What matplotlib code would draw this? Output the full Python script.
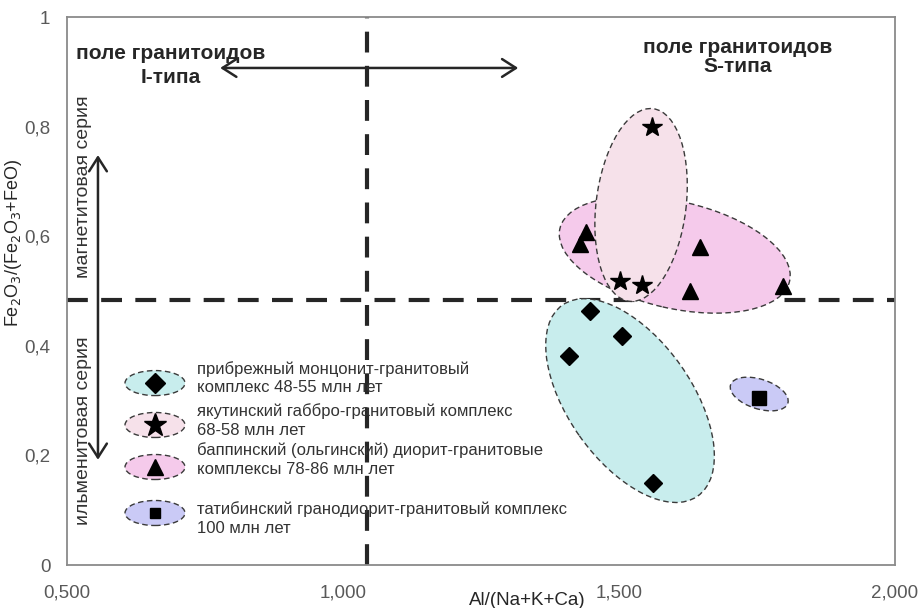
import matplotlib
matplotlib.use('Agg')
import matplotlib.pyplot as plt
from matplotlib.patches import Ellipse
from matplotlib.ticker import FixedLocator, FuncFormatter

plt.rcParams['font.family'] = ['Liberation Sans', 'DejaVu Sans']

# ---------------- data ----------------
diamond_x = [1.448, 1.505, 1.409, 1.562]
diamond_y = [0.464, 0.418, 0.382, 0.150]
star_x = [1.560, 1.502, 1.542]
star_y = [0.800, 0.518, 0.511]
tri_x = [1.440, 1.429, 1.647, 1.629, 1.797]
tri_y = [0.608, 0.586, 0.580, 0.500, 0.509]
sq_x = [1.754]
sq_y = [0.305]

boundary_x = 1.043   # I / S boundary
boundary_y = 0.483   # magnetite / ilmenite boundary

x_ticks = [0.5, 1.0, 1.5, 2.0]
y_ticks = [0.0, 0.2, 0.4, 0.6, 0.8, 1.0]

legend_labels = [
    "прибрежный монцонит-гранитовый\nкомплекс 48-55 млн лет",
    "якутинский габбро-гранитовый комплекс\n68-58 млн лет",
    "баппинский (ольгинский) диорит-гранитовые\nкомплексы 78-86 млн лет",
    "татибинский гранодиорит-гранитовый комплекс\n100 млн лет",
]

# ---------------- styles ----------------
c_cyan = '#c8eded'
c_lpink = '#f6e1ea'
c_pink = '#f5caeb'
c_blue = '#cacaf6'
edge = '#3a3a3a'
ell_ls = (0, (4, 2.5))

fig = plt.figure(figsize=(9.18, 6.08), dpi=100)
ax = fig.add_axes([67/918, 1-565/608, 828/918, 548/608])
ax.set_xlim(0.5, 2.0)
ax.set_ylim(0, 1)

for s in ax.spines.values():
    s.set_color('#8a8a8a')
    s.set_linewidth(1.3)

ax.xaxis.set_major_locator(FixedLocator(x_ticks))
ax.yaxis.set_major_locator(FixedLocator(y_ticks))
ax.xaxis.set_major_formatter(FuncFormatter(lambda v, p: f"{v:.3f}".replace('.', ',')))
def yfmt(v, p):
    if abs(v) < 1e-9:
        return '0'
    if abs(v - 1) < 1e-9:
        return '1'
    return f"{v:.1f}".replace('.', ',')
ax.yaxis.set_major_formatter(FuncFormatter(yfmt))
ax.tick_params(axis='both', length=0, labelsize=13.5, labelcolor='#595959')
ax.tick_params(axis='x', pad=14)
ax.tick_params(axis='y', pad=12)

# boundary lines
ax.axvline(boundary_x, color='#262626', lw=3, ls=(0, (5, 3.2)), zorder=2)
ax.axhline(boundary_y, color='#262626', lw=3, ls=(0, (5, 3.2)), zorder=2)

# field ellipses (width = major axis, data units; angle in degrees)
ax.add_patch(Ellipse((1.601, 0.566), 0.427, 0.195, angle=-13, facecolor=c_pink,
                     edgecolor=edge, lw=1.0, ls=ell_ls, zorder=3))
ax.add_patch(Ellipse((1.540, 0.657), 0.354, 0.163, angle=83, facecolor=c_lpink,
                     edgecolor=edge, lw=1.0, ls=ell_ls, zorder=3.1))
ax.add_patch(Ellipse((1.520, 0.300), 0.426, 0.224, angle=-55, facecolor=c_cyan,
                     edgecolor=edge, lw=1.0, ls=ell_ls, zorder=3))
ax.add_patch(Ellipse((1.754, 0.312), 0.109, 0.054, angle=-18, facecolor=c_blue,
                     edgecolor=edge, lw=1.0, ls=ell_ls, zorder=3))

# points
ax.plot(diamond_x, diamond_y, 'D', color='black', ms=9, zorder=5, ls='none')
ax.plot(star_x, star_y, '*', color='black', ms=15, zorder=5, ls='none')
ax.plot(tri_x, tri_y, '^', color='black', ms=11, zorder=5, ls='none')
ax.plot(sq_x, sq_y, 's', color='black', ms=9.5, zorder=5, ls='none')

# field captions
ax.text(0.125, 0.9115, "поле гранитоидов\nI-типа", transform=ax.transAxes,
        ha='center', va='center', fontsize=15, fontweight='bold', color='#262626',
        linespacing=1.3)
ax.text(0.810, 0.927, "поле гранитоидов\nS-типа", transform=ax.transAxes,
        ha='center', va='center', fontsize=15, fontweight='bold', color='#262626',
        linespacing=0.98)

# horizontal arrow
ax.annotate('', xy=(0.185, 0.907), xytext=(0.545, 0.907), xycoords='axes fraction',
            arrowprops=dict(arrowstyle='<->,head_length=0.5,head_width=0.32',
                            color='#262626', lw=1.8, mutation_scale=20,
                            shrinkA=0, shrinkB=0), zorder=6)
# vertical arrow
ax.annotate('', xy=(0.0374, 0.748), xytext=(0.0374, 0.192), xycoords='axes fraction',
            arrowprops=dict(arrowstyle='<->,head_length=0.5,head_width=0.32',
                            color='#262626', lw=1.8, mutation_scale=20,
                            shrinkA=0, shrinkB=0), zorder=6)

ax.text(0.0205, 0.69, "магнетитовая серия", transform=ax.transAxes, rotation=90,
        ha='center', va='center', fontsize=14, color='#333333')
ax.text(0.0205, 0.246, "ильменитовая серия", transform=ax.transAxes, rotation=90,
        ha='center', va='center', fontsize=14, color='#333333')

# custom legend
leg_y = [0.332, 0.2555, 0.1788, 0.0949]
txt_y = [0.341, 0.2638, 0.1925, 0.0849]
leg_colors = [c_cyan, c_lpink, c_pink, c_blue]
leg_markers = [('D', 10), ('*', 17), ('^', 12), ('s', 6.5)]
for ly, ty, col, (mk, ms), lab in zip(leg_y, txt_y, leg_colors, leg_markers, legend_labels):
    ax.add_patch(Ellipse((0.1063, ly), 60/828, 25/548, transform=ax.transAxes,
                         facecolor=col, edgecolor=edge, lw=1.0, ls=ell_ls, zorder=3))
    ax.plot([0.1063], [ly], mk, color='black', ms=ms, transform=ax.transAxes, zorder=5)
    ax.text(0.157, ty, lab, transform=ax.transAxes, ha='left', va='center',
            fontsize=12, color='#333333', linespacing=1.28, zorder=4)

ax.set_xlabel("Al/(Na+K+Ca)", fontsize=13.5, color='#262626', va='center')
ax.xaxis.set_label_coords(0.556, -0.064)
ax.set_ylabel(r"Fe$_2$O$_3$/(Fe$_2$O$_3$+FeO)", fontsize=13, color='#262626', va='center')
ax.yaxis.set_label_coords(-0.065, 0.588)

fig.savefig('out.png', dpi=100)
